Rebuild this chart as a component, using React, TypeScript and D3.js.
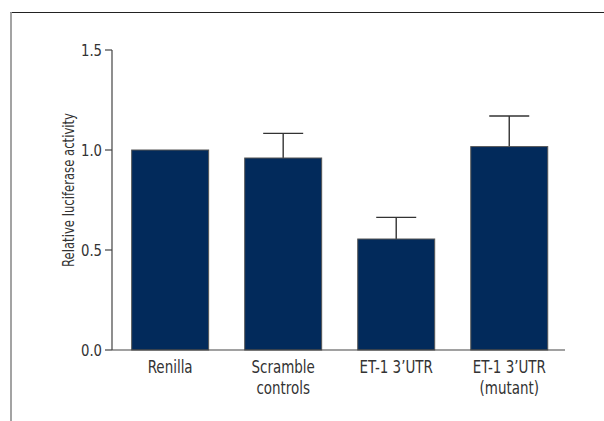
import React from "react";
import * as d3 from "d3";

const categories: string[][] = [
  ["Renilla"],
  ["Scramble", "controls"],
  ["ET-1 3\u2019UTR"],
  ["ET-1 3\u2019UTR", "(mutant)"],
];
const means = [1.0, 0.96, 0.555, 1.017];
const errors = [0, 0.123, 0.108, 0.153];
const yTicks = [0, 0.5, 1.0, 1.5];

const W = 604;
const H = 421;
const FONT = "'DejaVu Sans Condensed', 'Liberation Sans Narrow', sans-serif";

export default function App() {
  const y = d3.scaleLinear().domain([0, 1.5]).range([350, 50]);
  const x = d3
    .scaleBand<number>()
    .domain(d3.range(categories.length))
    .range([112, 567.4])
    .paddingInner(0.319)
    .paddingOuter(0.174);
  const bw = x.bandwidth();
  const axisX = 112;
  const axisEnd = 565;
  const capHalf = 20;

  return (
    <svg
      width={W}
      height={H}
      style={{ position: "absolute", left: 0, top: 0, background: "#fff" }}
    >
      {/* panel frame */}
      <line x1={10} x2={W} y1={12.5} y2={12.5} stroke="#222" strokeWidth={1.2} />
      <line x1={11} x2={11} y1={12} y2={H} stroke="#999" strokeWidth={1.8} />

      {/* bars with error bars */}
      {means.map((m, i) => {
        const x0 = x(i)!;
        const cx = x0 + bw / 2;
        const top = y(m);
        const e = errors[i];
        return (
          <g key={i}>
            {e > 0 && (
              <g stroke="#333" strokeWidth={1.4}>
                <line x1={cx} x2={cx} y1={top} y2={y(m + e)} />
                <line x1={cx - capHalf} x2={cx + capHalf} y1={y(m + e)} y2={y(m + e)} />
              </g>
            )}
            <rect
              x={x0}
              y={top}
              width={bw}
              height={y(0) - top}
              fill="#022A5B"
              stroke="#555"
              strokeWidth={1}
            />
          </g>
        );
      })}

      {/* y axis */}
      <line x1={axisX} x2={axisX} y1={y(1.5)} y2={y(0)} stroke="#444" strokeWidth={1.2} />
      {yTicks.map((t) => (
        <g key={t}>
          <line x1={axisX - 7} x2={axisX} y1={y(t)} y2={y(t)} stroke="#444" strokeWidth={1.2} />
          <g transform={`translate(${axisX - 10}, ${y(t)}) scale(0.92, 1)`}>
            <text
              dy="0.36em"
              textAnchor="end"
              fontFamily={FONT}
              fontSize={16}
              fill="#333"
            >
              {t.toFixed(1)}
            </text>
          </g>
        </g>
      ))}

      {/* x axis */}
      <line x1={axisX} x2={axisEnd} y1={y(0)} y2={y(0)} stroke="#444" strokeWidth={1.2} />
      {categories.map((lines, i) => (
        <g key={i} transform={`translate(${x(i)! + bw / 2}, 373) scale(0.88, 1)`}>
          <text textAnchor="middle" fontFamily={FONT} fontSize={17} fill="#333">
            {lines.map((l, j) => (
              <tspan key={j} x={0} dy={j === 0 ? 0 : 21}>
                {l}
              </tspan>
            ))}
          </text>
        </g>
      ))}

      {/* y axis title */}
      <text
        transform="translate(73.5, 190) rotate(-90) scale(0.81, 1)"
        textAnchor="middle"
        fontFamily={FONT}
        fontSize={16}
        fill="#333"
      >
        Relative luciferase activity
      </text>
    </svg>
  );
}
